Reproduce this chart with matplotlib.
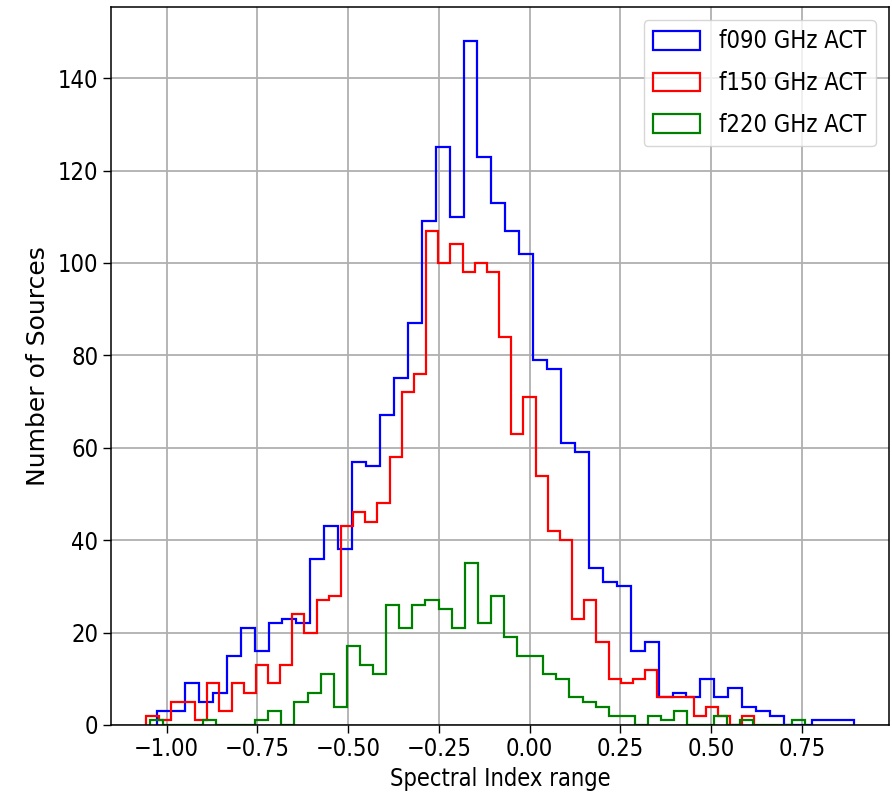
import numpy as np
import matplotlib
matplotlib.use("Agg")
import matplotlib.pyplot as plt

# ---- data ----
labels = ["f090 GHz ACT", "f150 GHz ACT", "f220 GHz ACT"]
colors = ["blue", "red", "green"]

f090_range = (-1.026, 0.892)
f090_counts = [3, 3, 9, 5, 7, 15, 21, 16, 22, 23,
               22, 36, 43, 38, 57, 56, 67, 75, 87, 109,
               125, 110, 148, 123, 113, 107, 102, 79, 77, 61,
               59, 34, 31, 30, 16, 18, 6, 7, 6, 10,
               6, 8, 4, 3, 2, 0, 0, 1, 1, 1]

f150_range = (-1.0555, 0.619)
f150_counts = [2, 1, 5, 5, 1, 9, 3, 9, 7, 13,
               9, 13, 24, 20, 27, 28, 43, 46, 44, 48,
               58, 72, 76, 107, 100, 104, 98, 100, 98, 84,
               63, 71, 54, 42, 40, 23, 27, 18, 10, 9,
               10, 12, 6, 6, 6, 2, 4, 2, 0, 2]

f220_range = (-1.0445, 0.7587)
f220_counts = [1, 0, 0, 0, 1, 0, 0, 0, 1, 3,
               0, 5, 7, 11, 4, 17, 13, 11, 26, 21,
               26, 27, 25, 21, 35, 22, 28, 19, 15, 15,
               11, 10, 6, 5, 4, 2, 2, 0, 2, 1,
               3, 0, 0, 2, 0, 1, 0, 0, 0, 1]

xlabel = "Spectral Index range"
ylabel = "Number of Sources"
yticks = [0, 20, 40, 60, 80, 100, 120, 140]

# ---- plot ----
plt.rcParams['font.family'] = ['DejaVu Sans']
plt.rcParams['font.stretch'] = 'condensed'
FS = 17

fig = plt.figure(figsize=(8.92, 8.10), dpi=100)
ax = fig.add_axes([111/892, 1-725/810, (889-111)/892, (725-7)/810])

series = [(f090_range, f090_counts), (f150_range, f150_counts), (f220_range, f220_counts)]
for (rng, counts), lab, col in zip(series, labels, colors):
    counts = np.asarray(counts, dtype=float)
    edges = np.linspace(rng[0], rng[1], len(counts) + 1)
    ax.hist(edges[:-1], bins=edges, weights=counts, histtype='step',
            color=col, linewidth=1.6, label=lab)

ax.set_yticks(yticks)
ax.grid(True, color='#b0b0b0', linewidth=1.3)
ax.set_axisbelow(True)
ax.tick_params(labelsize=FS, length=5.5, width=1.0)
for s in ax.spines.values():
    s.set_linewidth(1.1)
ax.set_xlabel(xlabel, fontsize=FS, labelpad=4)
ax.set_ylabel(ylabel, fontsize=18, fontstretch='normal', labelpad=6)
ax.legend(loc='upper right', fontsize=FS, handlelength=2.0,
          labelspacing=0.75, handleheight=0.85, borderaxespad=0.55)

fig.savefig("out.png", dpi=100)
